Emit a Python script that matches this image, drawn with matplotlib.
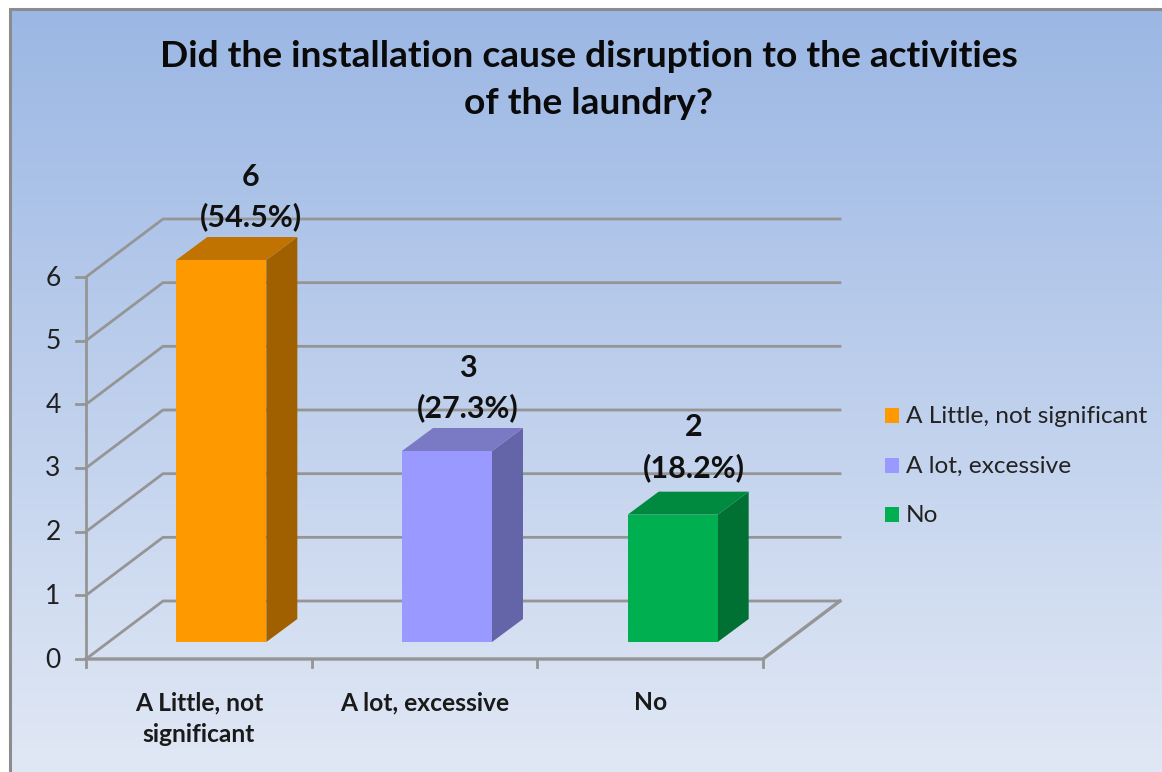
import numpy as np
import matplotlib
matplotlib.use("Agg")
import matplotlib.pyplot as plt
from matplotlib.patches import Polygon, Rectangle

plt.rcParams['font.family'] = ['Lato', 'DejaVu Sans']

W, H = 1162, 772
title = "Did the installation cause disruption to the activities\nof the laundry?"
categories = ["A Little, not significant", "A lot, excessive", "No"]
cat_labels = ["A Little, not\nsignificant", "A lot, excessive", "No"]
values = [6, 3, 2]
percents = ["54.5%", "27.3%", "18.2%"]
yticks = [0, 1, 2, 3, 4, 5, 6]
front = ["#FF9900", "#9999FF", "#00B050"]
top = ["#C07300", "#7A7AC4", "#008A40"]
side = ["#A06000", "#6464A8", "#007033"]
label_shift_px = [14, 5, 6]
label_lift_px = [6, 6, 10]

# pixel scale of the chart's axes
X0, XU = 86, (763 - 86) / 3
Y0, YU = 659, (659 - 277) / 6
DX, DY = 77 / XU, 58 / YU          # oblique depth of the walls, in data units

fig = plt.figure(figsize=(W / 100, H / 100), dpi=100)
ax = fig.add_axes([0, 0, 1, 1])
xlim = (-X0 / XU, (W - X0) / XU)
ylim = ((Y0 - H) / YU, Y0 / YU)
ax.axis('off')

# background
grad = np.linspace(0, 1, 256)[:, None, None]
c0 = np.array([0x9B, 0xB7, 0xE4]) / 255
c1 = np.array([0xE1, 0xE8, 0xF5]) / 255
img = c0 * (1 - grad) + c1 * grad
ax.imshow(img, extent=[(10 - X0) / XU, (W - X0) / XU, (Y0 - H) / YU, (Y0 - 9) / YU],
          aspect='auto', zorder=0, interpolation='bilinear')
ax.set_xlim(*xlim)
ax.set_ylim(*ylim)
# chart frame (left and top edges)
ax.plot([(9.5 - X0) / XU, (9.5 - X0) / XU, xlim[1]],
        [ylim[0], (Y0 - 8.5) / YU, (Y0 - 8.5) / YU],
        color='#8C8C8C', lw=2.2, zorder=1, solid_joinstyle='miter')

GRID = '#959595'
n = len(categories)
for v in yticks:
    ax.plot([0, DX, n + DX], [v, v + DY, v + DY], color=GRID, lw=2, zorder=2, solid_joinstyle='miter')
    ax.plot([-10 / XU, 0], [v, v], color=GRID, lw=2, zorder=2)
    ax.text(-33 / XU, v - 1 / YU, str(v), ha='center', va='center', fontsize=19, color='#1F1F1F', zorder=5)
ax.plot([0, 0], [0, max(yticks)], color=GRID, lw=2, zorder=2)
ax.plot([0, n, n + DX], [0, 0, DY], color=GRID, lw=2.4, zorder=3, solid_joinstyle='miter')
for i in range(n + 1):
    ax.plot([i, i], [0, -8 / YU], color=GRID, lw=2, zorder=3)

# bars
BW = 90 / XU
BDX, BDY = 31 / XU, 23 / YU
OX, OY = 22.5 / XU, 17 / YU
for i, (v, p) in enumerate(zip(values, percents)):
    x0 = i + 0.5 - BW / 2 + OX
    y0 = OY
    y1 = v + OY
    x1 = x0 + BW
    ax.add_patch(Polygon([(x1, y0), (x1 + BDX, y0 + BDY), (x1 + BDX, y1 + BDY), (x1, y1)],
                         fc=side[i], ec='none', zorder=4))
    ax.add_patch(Polygon([(x0, y1), (x1, y1), (x1 + BDX, y1 + BDY), (x0 + BDX, y1 + BDY)],
                         fc=top[i], ec='none', zorder=4))
    ax.add_patch(Rectangle((x0, y0), BW, v, fc=front[i], ec='none', zorder=4))
    ax.text(x0 + BW / 2 + BDX / 2 + label_shift_px[i] / XU, y1 + BDY + label_lift_px[i] / YU, f"{v}\n({p})",
            ha='center', va='bottom', fontsize=22, fontweight='bold', color='#101010',
            linespacing=1.48, zorder=6)
    ax.text(i + 0.5, -32 / YU, cat_labels[i], ha='center', va='top', fontsize=17.7,
            fontweight='bold', color='#1A1A1A', linespacing=1.49, zorder=5)

# title
ax.text((589 - X0) / XU, (Y0 - 80) / YU, title, ha='center', va='center', fontsize=26.7,
        fontweight='bold', color='#0A0A0A', linespacing=1.54, zorder=5)

# legend
leg_y = [415, 465, 514]
for name, col, ly in zip(categories, front, leg_y):
    ax.add_patch(Rectangle(((885 - X0) / XU, (Y0 - ly - 7.5) / YU), 14 / XU, 15 / YU, fc=col, ec='none', zorder=5))
    ax.text((906 - X0) / XU, (Y0 - ly - 1.5) / YU, name, ha='left', va='center', fontsize=17.6,
            color='#222222', zorder=5)

fig.savefig('out.png', dpi=100)
